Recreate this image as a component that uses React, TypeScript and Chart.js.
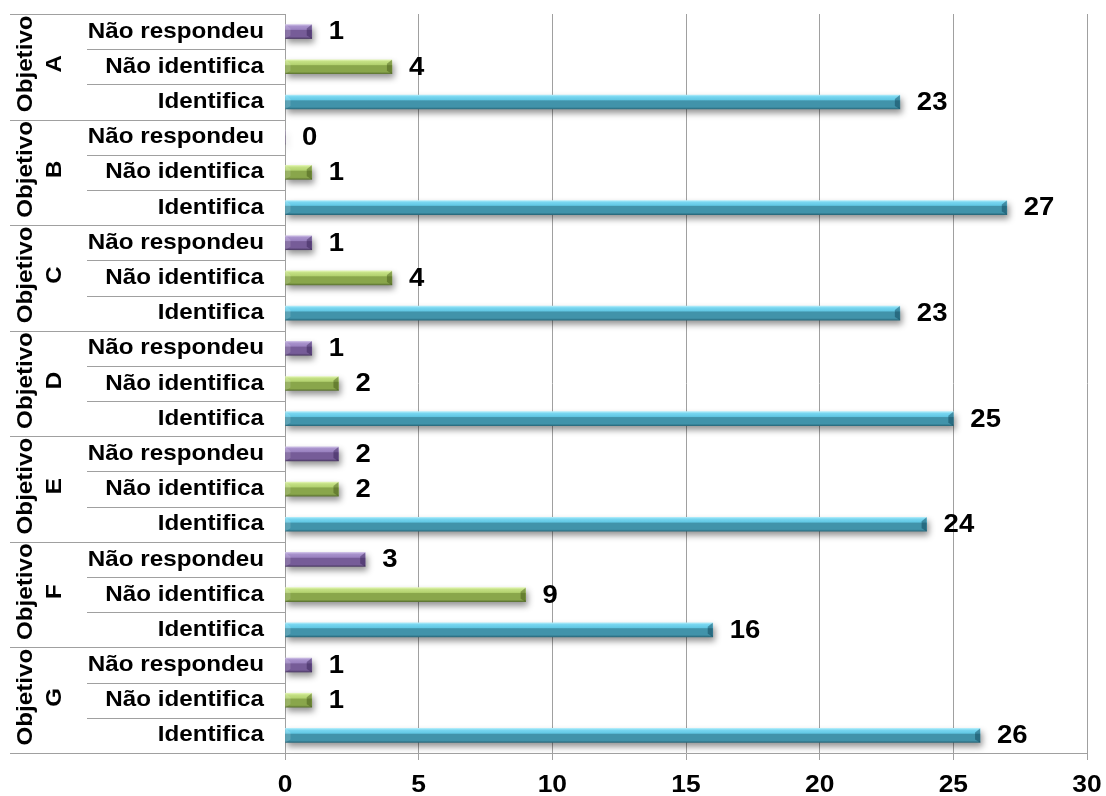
import React, { useEffect, useRef } from "react";
import { Chart, registerables } from "chart.js";

Chart.register(...registerables);

// Objectives and answer categories (top to bottom inside each objective)
const objectives = ["A", "B", "C", "D", "E", "F", "G"];
const responses = ["Não respondeu", "Não identifica", "Identifica"];

// Counts per objective
const naoRespondeu = [1, 0, 1, 1, 2, 3, 1];
const naoIdentifica = [4, 1, 4, 2, 2, 9, 1];
const identifica = [23, 27, 23, 25, 24, 16, 26];

// Value axis
const xMin = 0;
const xMax = 30;
const xStep = 5;

const FONT = '"Liberation Sans", Arial, sans-serif';
const STRETCH = 1.1;
const LINE = "#a0a0a0";

type Shade = { top: string; light: string; mid: string; body: string; bottom: string; edge: string };
const shades: Shade[] = [
  { top: "#cdbfe6", light: "#a892cc", mid: "#9a82c0", body: "#765c98", bottom: "#4f3d68", edge: "rgba(40,20,70,0.4)" },
  { top: "#e2f5b4", light: "#c4e084", mid: "#b3d270", body: "#89a64b", bottom: "#5d7433", edge: "rgba(50,70,10,0.4)" },
  { top: "#b0ecfa", light: "#78d6f0", mid: "#62c8e4", body: "#4193aa", bottom: "#2a6b7e", edge: "rgba(10,60,80,0.45)" },
];

// Flatten into chart rows: per objective -> Não respondeu, Não identifica, Identifica
const rowLabels: string[] = [];
const rowValues: number[] = [];
const rowSeries: number[] = [];
objectives.forEach((_, g) => {
  const vals = [naoRespondeu[g], naoIdentifica[g], identifica[g]];
  responses.forEach((r, k) => {
    rowLabels.push(r);
    rowValues.push(vals[k]);
    rowSeries.push(k);
  });
});

function drawStretched(
  ctx: CanvasRenderingContext2D,
  text: string,
  x: number,
  y: number,
  align: CanvasTextAlign,
  size: number,
  rotate = 0
) {
  ctx.save();
  ctx.translate(x, y);
  if (rotate) ctx.rotate(rotate);
  ctx.scale(STRETCH, 1);
  ctx.font = `bold ${size}px ${FONT}`;
  ctx.fillStyle = "#000";
  ctx.textAlign = align;
  ctx.textBaseline = "middle";
  ctx.fillText(text, 0, 0);
  ctx.restore();
}

const barLook = {
  id: "barLook",
  beforeDatasetsDraw(chart: any) {
    const ctx: CanvasRenderingContext2D = chart.ctx;
    const meta = chart.getDatasetMeta(0);
    meta.data.forEach((el: any, i: number) => {
      const p = el.getProps(["x", "y", "height"], true);
      const top = p.y - p.height / 2;
      const bot = p.y + p.height / 2;
      const s = shades[rowSeries[i]];
      const g = ctx.createLinearGradient(0, top, 0, bot);
      g.addColorStop(0, s.top);
      g.addColorStop(0.12, s.light);
      g.addColorStop(0.34, s.mid);
      g.addColorStop(0.42, s.body);
      g.addColorStop(0.86, s.body);
      g.addColorStop(1, s.bottom);
      el.options = { ...el.options, backgroundColor: g };
    });
    ctx.save();
    ctx.shadowColor = "rgba(0,0,0,0.42)";
    ctx.shadowBlur = 6;
    ctx.shadowOffsetX = 2;
    ctx.shadowOffsetY = 4;
  },
  afterDatasetsDraw(chart: any) {
    const ctx: CanvasRenderingContext2D = chart.ctx;
    ctx.restore();
    const meta = chart.getDatasetMeta(0);
    meta.data.forEach((el: any, i: number) => {
      const p = el.getProps(["x", "y", "base", "height"], true);
      if (p.x - p.base < 2) return;
      const top = p.y - p.height / 2;
      const bot = p.y + p.height / 2;
      const s = shades[rowSeries[i]];
      const b = Math.min(5, (p.x - p.base) / 2);
      // right-hand bevel
      ctx.save();
      ctx.fillStyle = s.edge;
      ctx.beginPath();
      ctx.moveTo(p.x - b, top + 4);
      ctx.lineTo(p.x, top);
      ctx.lineTo(p.x, bot);
      ctx.lineTo(p.x - b, bot - 3);
      ctx.closePath();
      ctx.fill();
      // left-hand bevel
      ctx.fillStyle = "rgba(255,255,255,0.15)";
      ctx.beginPath();
      ctx.moveTo(p.base, top);
      ctx.lineTo(p.base + b, top + 4);
      ctx.lineTo(p.base + b, bot - 3);
      ctx.lineTo(p.base, bot);
      ctx.closePath();
      ctx.fill();
      ctx.restore();
    });
  },
};

const annotations = {
  id: "annotations",
  afterDraw(chart: any) {
    const ctx: CanvasRenderingContext2D = chart.ctx;
    const y = chart.scales.y;
    const x = chart.scales.x;
    const area = chart.chartArea;
    const band = (area.bottom - area.top) / rowLabels.length;
    const rowTop = (i: number) => y.getPixelForValue(i) - band / 2;

    // separators in the category column
    ctx.save();
    ctx.strokeStyle = LINE;
    ctx.lineWidth = 1;
    for (let i = 0; i <= rowLabels.length; i++) {
      const yy = Math.round(i < rowLabels.length ? rowTop(i) : area.bottom) + 0.5;
      const startX = i % responses.length === 0 ? 10 : 87;
      ctx.beginPath();
      ctx.moveTo(startX, yy);
      ctx.lineTo(area.left, yy);
      ctx.stroke();
    }
    ctx.restore();

    // answer labels
    rowLabels.forEach((lab, i) => {
      drawStretched(ctx, lab, area.left - 21, y.getPixelForValue(i), "right", 22);
    });

    // objective labels (rotated, two lines)
    objectives.forEach((o, g) => {
      const t = rowTop(g * 3);
      const b = g * 3 + 3 < rowLabels.length ? rowTop(g * 3 + 3) : area.bottom;
      const cy = (t + b) / 2 - 3;
      drawStretched(ctx, "Objetivo", 26, cy, "center", 22, -Math.PI / 2);
      drawStretched(ctx, o, 55, cy, "center", 22, -Math.PI / 2);
    });

    // value labels
    const meta = chart.getDatasetMeta(0);
    meta.data.forEach((el: any, i: number) => {
      const p = el.getProps(["x", "y"], true);
      drawStretched(ctx, String(rowValues[i]), p.x + 17, p.y + 1, "left", 25);
    });

    // value axis tick labels
    for (let v = xMin; v <= xMax; v += xStep) {
      drawStretched(ctx, String(v), x.getPixelForValue(v), area.bottom + 32, "center", 24);
    }
  },
};

export default function App() {
  const ref = useRef<HTMLCanvasElement | null>(null);

  useEffect(() => {
    if (!ref.current) return;
    const chart = new Chart(ref.current, {
      type: "bar",
      data: {
        labels: rowLabels,
        datasets: [
          {
            data: rowValues,
            backgroundColor: rowSeries.map((k) => shades[k].body),
            borderWidth: 0,
            barThickness: 14,
          },
        ],
      },
      options: {
        indexAxis: "y",
        animation: false,
        responsive: false,
        maintainAspectRatio: false,
        layout: { padding: { top: 14, right: 19, left: 0, bottom: 0 } },
        plugins: {
          legend: { display: false },
          tooltip: { enabled: false },
        },
        scales: {
          y: {
            type: "category",
            offset: true,
            grid: { display: false },
            border: { display: true, color: LINE, width: 1 },
            ticks: { display: false },
            afterFit: (scale: any) => {
              scale.width = 285;
            },
          },
          x: {
            type: "linear",
            min: xMin,
            max: xMax,
            ticks: { stepSize: xStep, color: "rgba(0,0,0,0)", font: { size: 10 } },
            grid: { color: LINE, lineWidth: 1, tickLength: 7, drawTicks: true },
            border: { display: true, color: LINE, width: 1 },
            afterFit: (scale: any) => {
              scale.height = 43;
            },
          },
        },
      },
      plugins: [barLook, annotations],
    });
    return () => chart.destroy();
  }, []);

  return (
    <div style={{ position: "fixed", left: 0, top: 0, width: 1106, height: 796, background: "#fff" }}>
      <canvas ref={ref} width={1106} height={796} style={{ width: 1106, height: 796 }} />
    </div>
  );
}
